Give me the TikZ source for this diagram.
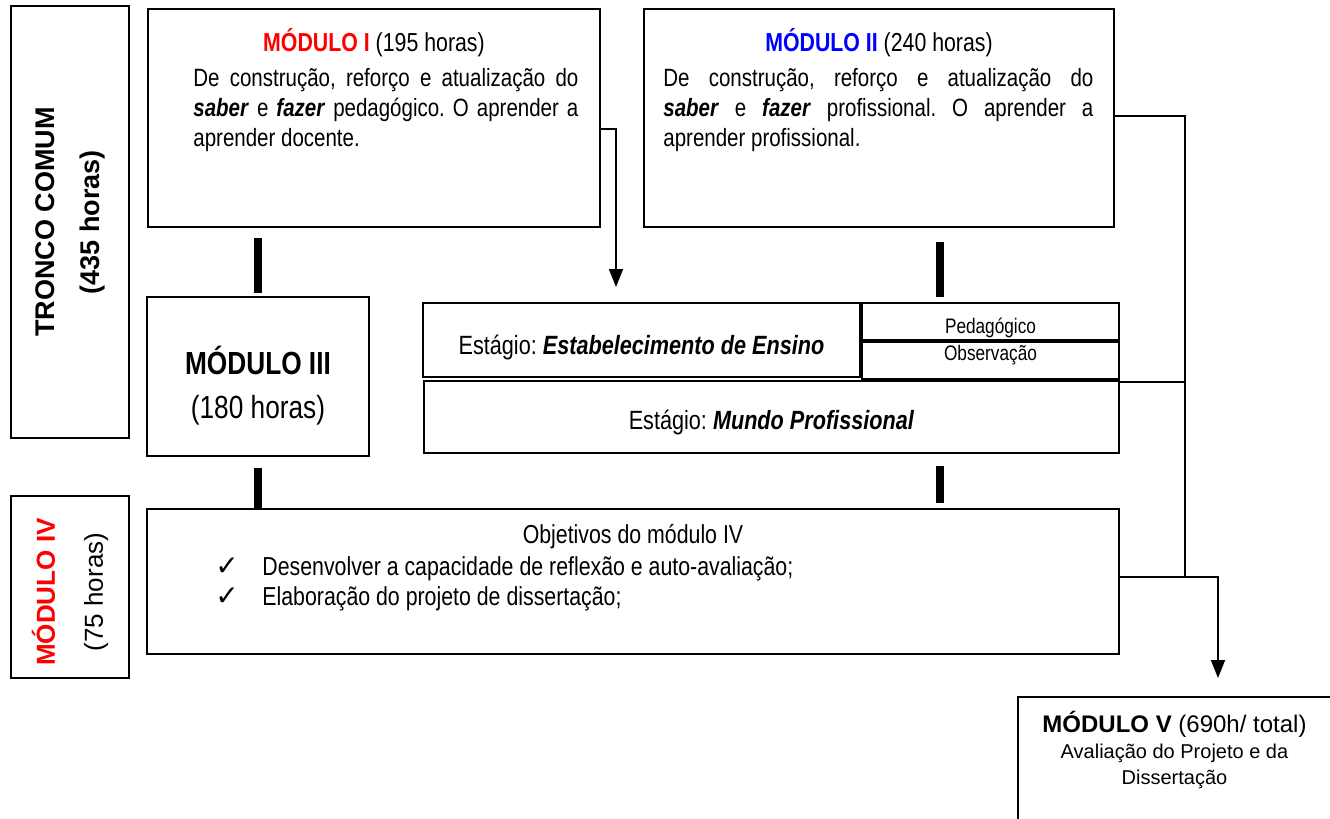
\documentclass[tikz,border=0pt]{standalone}
\usepackage{fontspec}
\setmainfont{Liberation Sans}
\newfontfamily\narrowfont[FakeStretch=0.82]{Liberation Sans}
\newfontfamily\symfont{DejaVu Sans}
\usetikzlibrary{arrows.meta,positioning}
\frenchspacing

\begin{document}
\begin{tikzpicture}[x=0.5pt,y=-0.5pt]
	\tikzstyle{box}=[draw, line width=1pt, inner sep=0pt, anchor=north west]
	\tikzstyle{bar}=[line width=4pt]
	\tikzstyle{link}=[line width=0.9pt]
	\tikzstyle{arr}=[link, -{Triangle[width=7pt,length=9pt]}]
	\tikzstyle{nfont}=[font=\narrowfont\fontsize{13}{15}\selectfont]
	\tikzstyle{small}=[font=\narrowfont\fontsize{10.5}{12}\selectfont]
	\tikzstyle{body}=[font=\narrowfont\fontsize{12.5}{15}\selectfont, inner sep=0pt, anchor=north west, align=justify]
	\useasboundingbox (0,0) rectangle (1330,819);

	\node[box, minimum width=59pt, minimum height=216pt] (tronco) at (10,5) {};
	\node[rotate=90, align=center, font=\bfseries\fontsize{13.5}{22.5}\selectfont] (troncotxt) at (tronco.center) {TRONCO COMUM\\(435 horas)};

	\node[box, minimum width=226pt, minimum height=109pt] (m1) at (147,8) {};
	\node[nfont, anchor=base, inner sep=0pt] (m1title) at ([yshift=-22pt]m1.north) {\textcolor{red}{\bfseries MÓDULO I} (195 horas)};
	\node[body, text width=192.5pt] (m1txt) at ([xshift=23pt,yshift=-30pt]m1.north west) {De construção, reforço e atualização do\linebreak \textbf{\textit{saber}} e \textbf{\textit{fazer}} pedagógico. O aprender a\linebreak aprender docente.};

	\node[box, minimum width=235pt, minimum height=109pt] (m2) at (643,8) {};
	\node[nfont, anchor=base, inner sep=0pt] (m2title) at ([yshift=-22pt]m2.north) {\textcolor{blue}{\bfseries MÓDULO II} (240 horas)};
	\node[body, text width=215pt] (m2txt) at ([xshift=10pt,yshift=-30pt]m2.north west) {De construção, reforço e atualização do\linebreak \textbf{\textit{saber}} e \textbf{\textit{fazer}} profissional. O aprender a\linebreak aprender profissional.};

	\node[box, minimum width=111pt, minimum height=79.5pt] (m3) at (146,296) {};
	\node[align=center, font=\narrowfont\fontsize{16}{22}\selectfont] (m3txt) at ([yshift=-4.5pt]m3.center) {\textbf{MÓDULO III}\\(180 horas)};

	\node[box, minimum width=218.5pt, minimum height=37pt] (estab) at (422,302) {};
	\node[nfont, font=\narrowfont\fontsize{13.2}{15}\selectfont] (estabtxt) at ([yshift=-4pt]estab.center) {Estágio: \textbf{\textit{Estabelecimento de Ensino}}};
	\node[box, minimum width=128.5pt, minimum height=18.5pt] (ped) at (estab.north east) {};
	\node[box, minimum width=128.5pt, minimum height=18.5pt] (obs) at (ped.south west) {};
	\node[small] (pedtxt) at ([yshift=-3pt]ped.center) {Pedagógico};
	\node[small] (obstxt) at ([yshift=2.5pt]obs.center) {Observação};
	\node[box, minimum width=347.5pt, minimum height=36pt] (mundo) at ([xshift=0.5pt,yshift=-1pt]estab.south west) {};
	\node[nfont, font=\narrowfont\fontsize{13.2}{15}\selectfont] (mundotxt) at ([yshift=-3pt]mundo.center) {Estágio: \textbf{\textit{Mundo Profissional}}};

	\node[box, minimum width=59pt, minimum height=91pt] (m4lbl) at (10,495) {};
	\node[rotate=90, align=center, font=\fontsize{13}{24}\selectfont] (m4lbltxt) at ([yshift=-2.5pt]m4lbl.center) {\textcolor{red}{\bfseries MÓDULO IV}\\(75 horas)};

	\node[box, minimum width=486pt, minimum height=72.5pt] (m4) at (146,508) {};
	\node[nfont, anchor=base, inner sep=0pt] (m4title) at ([yshift=-17.5pt]m4.north) {Objetivos do módulo IV};
	\node[nfont, anchor=base west, inner sep=0pt] (obj1) at ([xshift=34.5pt,yshift=-33.5pt]m4.north west) {\makebox[23.5pt][l]{\symfont\fontsize{14}{15}\selectfont ✓}Desenvolver a capacidade de reflexão e auto-avaliação;};
	\node[nfont, anchor=base west, inner sep=0pt] (obj2) at ([yshift=-15pt]obj1.base west) {\makebox[23.5pt][l]{\symfont\fontsize{14}{15}\selectfont ✓}Elaboração do projeto de dissertação;};

	\node[box, minimum width=156.5pt, minimum height=70pt] (m5) at (1017,696) {};
	\node[anchor=base, inner sep=0pt, font=\fontsize{12}{14}\selectfont] (m5title) at ([yshift=-18pt]m5.north) {\textbf{MÓDULO V} (690h/ total)};
	\node[anchor=north, inner sep=0pt, align=center, font=\fontsize{10}{13}\selectfont] (m5txt) at ([yshift=-23.75pt]m5.north) {Avaliação do Projeto e da\\Dissertação};

	\coordinate (a1) at (616,287);
	\coordinate (j1) at (1185,577);
	\coordinate (a2) at (1218,678);
	\coordinate (colR) at (940,0);

	\draw[bar] ([yshift=-5pt]m1.south -| m3.north) -- ([yshift=1.5pt]m3.north);
	\draw[bar] ([yshift=-5.5pt]m3.south) -- (m3.south |- m4.north);
	\draw[bar] ([yshift=-7pt]m2.south -| colR) -- ([yshift=2.5pt]estab.north -| colR);
	\draw[bar] ([yshift=-6pt]mundo.south -| colR) -- ([yshift=2.5pt]m4.north -| colR);

	\draw[arr] ([yshift=-5.5pt]m1.east) -| (a1);
	\draw[link] ([yshift=1pt]m2.east) -| (j1);
	\draw[link] ([yshift=-1pt]mundo.north east) -- ([yshift=-1pt]mundo.north east -| j1);
	\draw[arr] (m4.east |- j1) -| (a2);
\end{tikzpicture}
\end{document}
